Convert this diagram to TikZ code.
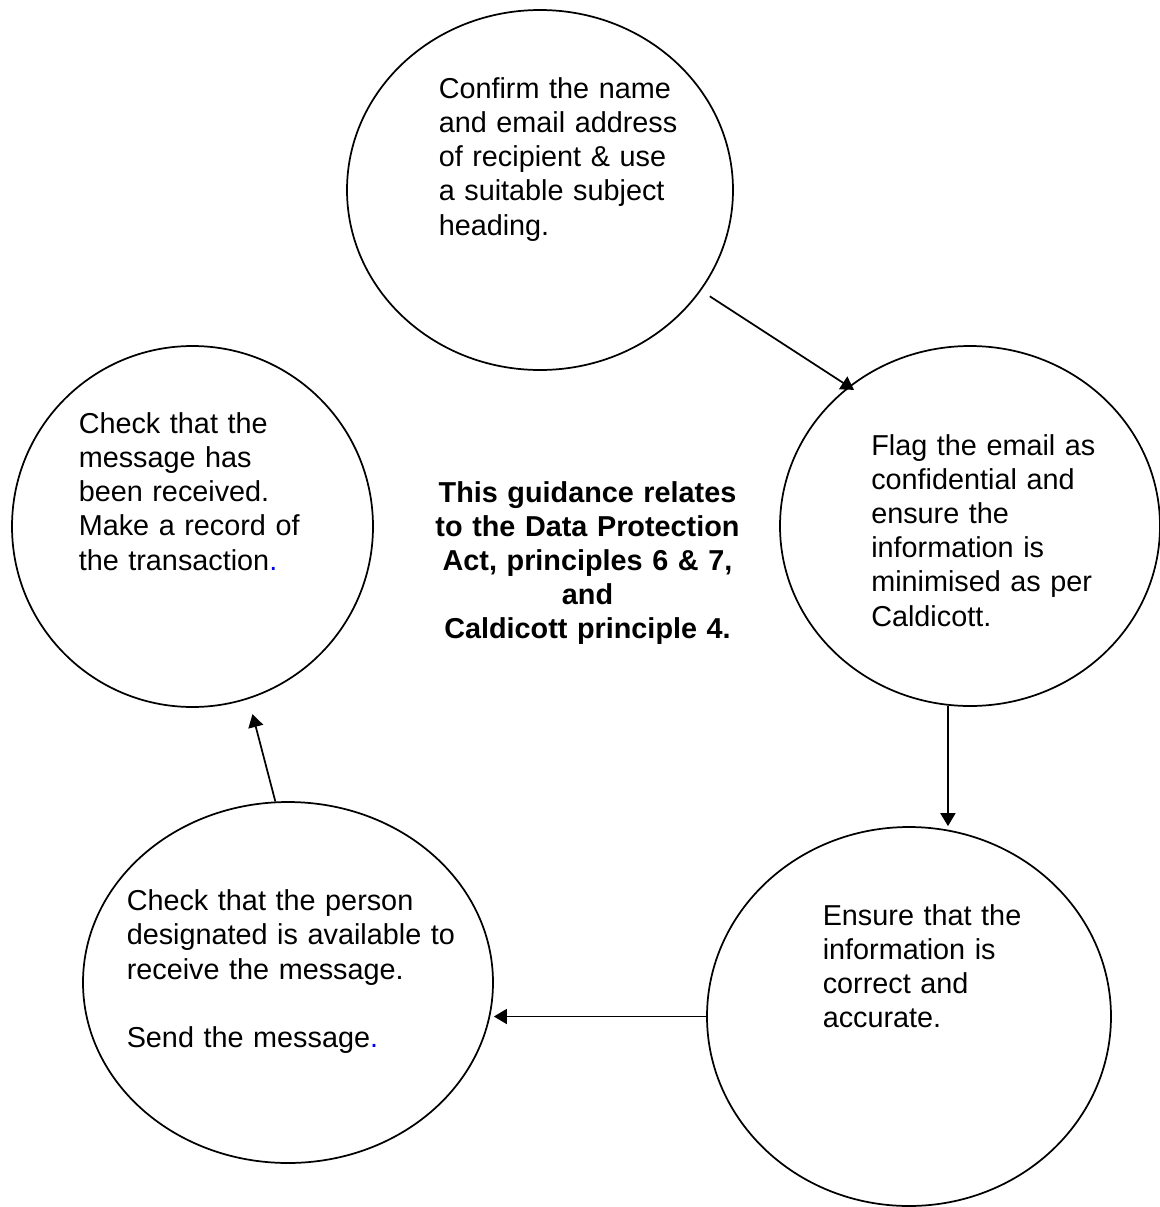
\documentclass[tikz,border=0pt]{standalone}
\usepackage{fontspec}
\setmainfont{Liberation Sans}
\usetikzlibrary{shapes.geometric,arrows.meta}
\begin{document}
\begin{tikzpicture}[x=0.75pt,y=-0.75pt,
  bubble/.style={draw=black,line width=1.3pt,ellipse,inner sep=0pt},
  arr/.style={line width=1.3pt,-{Triangle[length=9.75pt,width=11.25pt]}},
  txt/.style={anchor=base west,inner sep=0pt,text width=330pt,align=left,
    font=\fontsize{21.6pt}{25.65pt}\selectfont},
  ctxt/.style={anchor=base,inner sep=0pt,text width=250pt,align=center,
    font=\fontsize{21.6pt}{25.65pt}\selectfont\bfseries}]
\useasboundingbox (0,0) rectangle (1160,1207);
\node[bubble,minimum width=289.5pt,minimum height=270pt] (c1) at (540,190) {};
\node[bubble,minimum width=285pt,minimum height=270pt] (c2) at (970,526) {};
\node[bubble,minimum width=303pt,minimum height=284.25pt] (c3) at (909,1016.5) {};
\node[bubble,minimum width=307.5pt,minimum height=270.75pt] (c4) at (288,982.5) {};
\node[bubble,minimum width=270.75pt,minimum height=270.75pt] (c5) at (192.5,526.5) {};

\node[txt] (t1) at (438.5,98.3) {Confirm the name\\and email address\\of recipient \& use\\a suitable subject\\heading.};
\node[txt] (t2) at (871,455) {Flag the email as\\confidential and\\ensure the\\information is\\minimised as per\\Caldicott.};
\node[txt] (t3) at (822.5,925) {Ensure that the\\information is\\correct and\\accurate.};
\node[txt] (t4) at (126.5,910.7) {Check that the person\\designated is available to\\receive the message.\\[25.65pt]Send the message\textcolor{blue}{.}};
\node[txt] (t5) at (78.5,433.3) {Check that the\\message has\\been received.\\Make a record of\\the transaction\textcolor{blue}{.}};
\node[ctxt] (t6) at (587.5,502) {This guidance relates\\to the Data Protection\\Act, principles 6 \& 7,\\and\\Caldicott principle 4.};

\draw[arr,shorten <=7.8pt,shorten >=-4.8pt] (c1.-32.7) -- (c2.131.7);
\draw[arr] (c2.-97) -- (c2.-97 |- c3.north);
\draw[arr] (c3.west) -- (c3.west -| c4.east);
\draw[arr,shorten >=11.7pt] (c4.94.1) -- (c5.-72);
\end{tikzpicture}
\end{document}
